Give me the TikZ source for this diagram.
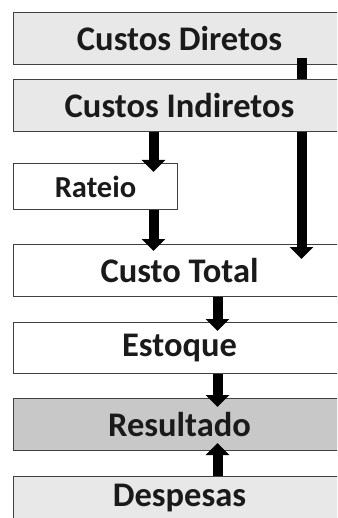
\documentclass[tikz,border=0pt]{standalone}
\usepackage{fontspec}
\setmainfont{Carlito}
\usetikzlibrary{arrows.meta, positioning}
\definecolor{boxline}{HTML}{404040}
\definecolor{lightfill}{HTML}{E8E8E8}
\definecolor{darkfill}{HTML}{C8C8C8}
\definecolor{txt}{HTML}{1A1A1A}
\tikzset{box/.style={rectangle,draw=boxline,line width=1pt,minimum width=332pt,minimum height=52pt,inner sep=0pt,font=\fontsize{34.5}{41}\selectfont\bfseries,text=txt},smallbox/.style={box,minimum width=164pt,minimum height=46pt,font=\fontsize{30.5}{36}\selectfont\bfseries},line/.style={line width=10pt,-{Triangle[width=23pt,length=12pt]}},bar/.style={line width=10pt}}

\begin{document}
\begin{tikzpicture}[x=1pt,y=-1pt]
\useasboundingbox (0,0) rectangle (337,518);
\clip (0,0) rectangle (337,518);
\node[box, fill=lightfill, anchor=north west] (diretos) at (13,12) {Custos Diretos};
\node[box, fill=lightfill, below=14pt of diretos.south west, anchor=north west] (indiretos) {Custos Indiretos};
\node[smallbox, fill=white, below=31pt of indiretos.south west, anchor=north west] (rateio) {Rateio};
\node[box, fill=white, below=34pt of rateio.south west, anchor=north west] (total) {Custo Total};
\node[box, fill=white, minimum height=51pt, below=25pt of total.south west, anchor=north west] (estoque) {Estoque};
\node[box, fill=darkfill, below=24pt of estoque.south west, anchor=north west] (resultado) {Resultado};
\node[box, fill=lightfill, text height=23pt, text depth=15pt, below=25pt of resultado.south west, anchor=north west] (despesas) {Despesas};
\draw[bar] ([xshift=122pt,yshift=7pt]diretos.south) -- ([xshift=122pt]indiretos.north);
\draw[line] ([xshift=122pt]indiretos.south) -- ([xshift=122pt,yshift=-15pt]total.north);
\draw[line] ([xshift=-26pt]indiretos.south) -- ([xshift=58pt,yshift=-9pt]rateio.north);
\draw[line] ([xshift=58pt]rateio.south) -- ([xshift=-26pt,yshift=-7pt]total.north);
\draw[line] ([xshift=38pt]total.south) -- ([xshift=38pt,yshift=-9pt]estoque.north);
\draw[line] ([xshift=38pt]estoque.south) -- ([xshift=38pt,yshift=-9pt]resultado.north);
\draw[line] ([xshift=38pt]despesas.north) -- ([xshift=38pt,yshift=8pt]resultado.south);
\end{tikzpicture}
\end{document}
